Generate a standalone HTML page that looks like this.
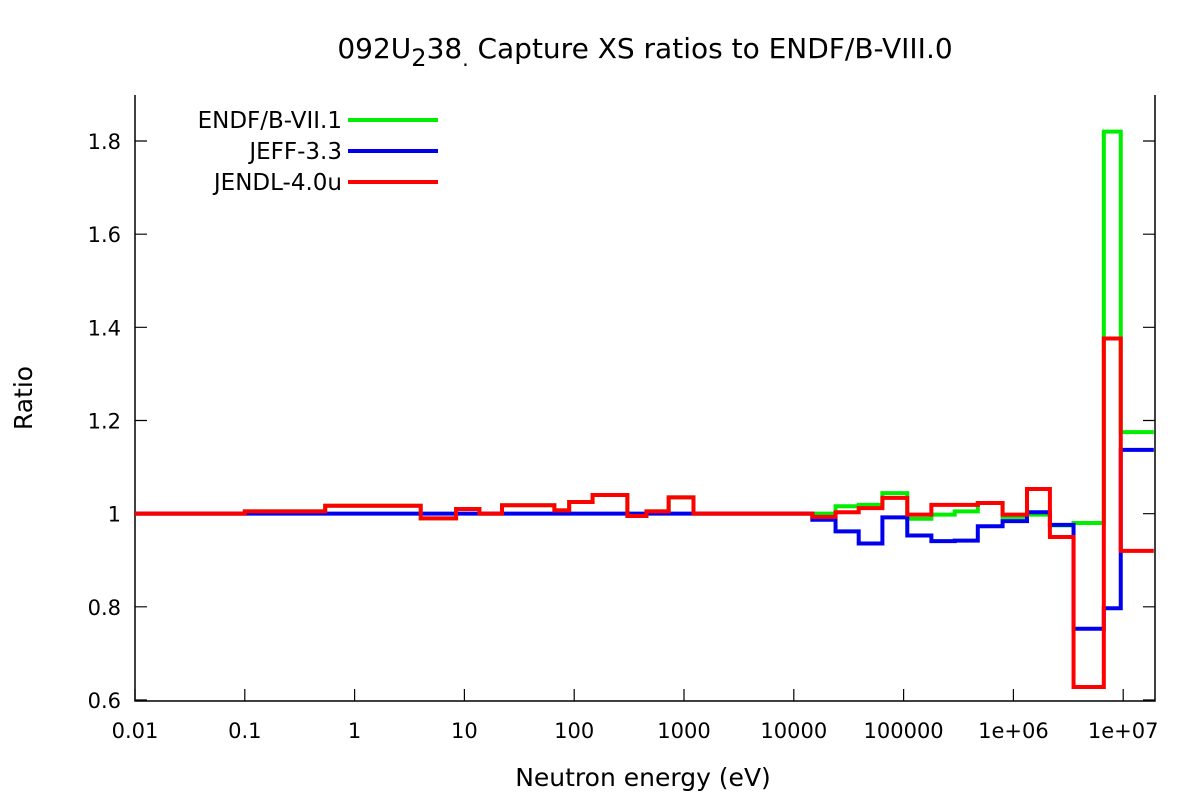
<!DOCTYPE html>
<html><head><meta charset="utf-8"><style>
body{margin:0;background:#fff}
svg{display:block;font-family:"DejaVu Sans","Liberation Sans",sans-serif}
</style></head><body>
<svg id="chart" width="1200" height="800" xmlns="http://www.w3.org/2000/svg">
<text x="645" y="58" font-size="28" text-anchor="middle">092U<tspan dy="8" font-size="24">2</tspan><tspan dy="-8">38</tspan><tspan dy="8" font-size="20">.</tspan><tspan dy="-8"> Capture XS ratios to ENDF/B-VIII.0</tspan></text>
<text x="643" y="786" font-size="25" text-anchor="middle">Neutron energy (eV)</text>
<text x="32" y="398" font-size="25" text-anchor="middle" transform="rotate(-90 32 398)">Ratio</text>
<g id="axes"></g>
<g id="series"></g>
<g id="legend"></g>
</svg>
<script>
const edges=[0.01,0.1,0.54,4.0,8.4,13.7,22,66,90,147,305,455,725,1220,14750,24000,39000,64100,108000,179000,292000,474000,797000,1.33e6,2.15e6,3.53e6,6.66e6,9.5e6,1.9e7];
const lowVals=[1.0,1.005,1.017,0.99,1.01,1.0,1.018,1.007,1.025,1.04,0.995,1.005,1.035,1.0];
const greenHigh=[1.0,1.016,1.019,1.044,0.989,0.998,1.005,1.023,0.993,0.998,0.975,0.98,1.82,1.175];
const blueVals=[1,1,1,1,1,1,1,1,1,1,1,1,1,1,0.987,0.962,0.936,0.992,0.953,0.941,0.942,0.973,0.984,1.003,0.976,0.753,0.797,1.137];
const redHigh=[0.993,1.003,1.012,1.034,0.998,1.019,1.019,1.023,0.998,1.053,0.95,0.628,1.376,0.92];
const seriesNames=["ENDF/B-VII.1","JEFF-3.3","JENDL-4.0u"];
const seriesColors=["#00ee00","#0000ee","#ff0000"];
const yTicks=[0.6,0.8,1,1.2,1.4,1.6,1.8];
const yTickLabels=["0.6","0.8","1","1.2","1.4","1.6","1.8"];
const xTicks=[0.01,0.1,1,10,100,1000,10000,100000,1e6,1e7];
const xTickLabels=["0.01","0.1","1","10","100","1000","10000","100000","1e+06","1e+07"];

const L=135,R=1155,T=95,B=701;
const X=e=>L+(Math.log10(e)+2)*109.8;
const Y=v=>700-(v-0.6)*(559/1.2);
const NS="http://www.w3.org/2000/svg";
function mk(t,a,p){const e=document.createElementNS(NS,t);for(const k in a)e.setAttribute(k,a[k]);p.appendChild(e);return e;}
const ax=document.getElementById('axes');
let frame=mk('path',{d:`M${L},${T}V${B}H${R}V${T}`,fill:'none',stroke:'#000','stroke-width':1.5},ax);


yTicks.forEach((v,i)=>{
 const y=Y(v);
 let t=mk('path',{d:`M${L},${y}h12M${R},${y}h-12`,stroke:'#000','stroke-width':1.2},ax);
 
 
 let l=mk('text',{x:L-14,y:y+8,'font-size':21,'text-anchor':'end'},ax);
 l.textContent=yTickLabels[i];
 
 
});
xTicks.forEach((v,i)=>{
 const x=X(v);
 let t=mk('path',{d:`M${x},${B}v-12`,stroke:'#000','stroke-width':1.2},ax);
 
 
 let l=mk('text',{x:x,y:B+37,'font-size':21,'text-anchor':'middle'},ax);
 l.textContent=xTickLabels[i];
 
 
});
function stepPath(vals){
 let d='';
 vals.forEach((v,i)=>{const x0=X(edges[i]),x1=X(edges[i+1]),y=Y(v);d+=(i?'L':'M')+x0+','+y+'L'+x1+','+y;});
 return d;
}
const sg=document.getElementById('series');
const all=[lowVals.concat(greenHigh),blueVals,lowVals.concat(redHigh)];
all.forEach((vals,i)=>{
 let p=mk('path',{d:stepPath(vals),fill:'none',stroke:seriesColors[i],'stroke-width':4,'stroke-linejoin':'miter'},sg);
 
 
});
const lg=document.getElementById('legend');
seriesNames.forEach((n,i)=>{
 const y=120+i*31;
 let g=mk('g',{},lg);
 
 
 let t=mk('text',{x:342,y:y+8,'font-size':23,'text-anchor':'end'},g);
 t.textContent=n;
 mk('path',{d:`M348,${y}H438`,stroke:seriesColors[i],'stroke-width':4},g);
});
</script>
</body></html>
